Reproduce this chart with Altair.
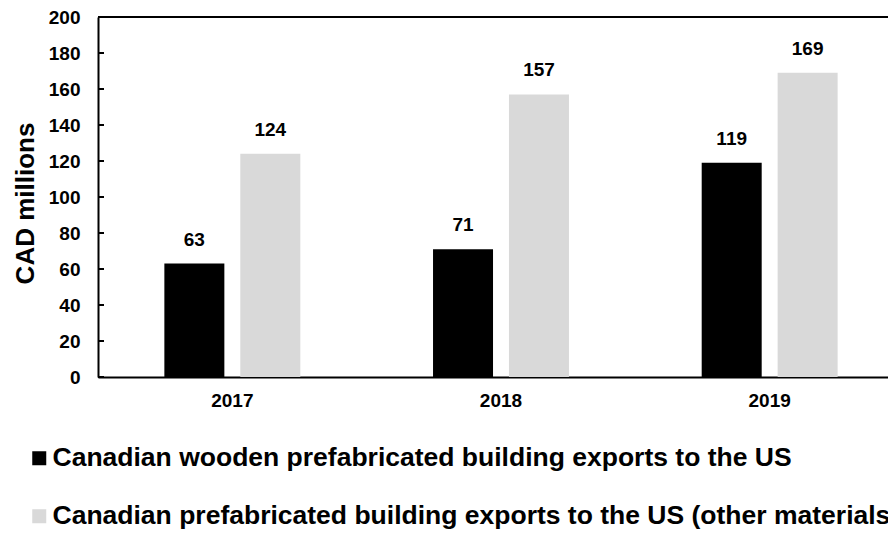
import altair as alt
import pandas as pd

years = ["2017", "2018", "2019"]
series_names = [
    "Canadian wooden prefabricated building exports to the US",
    "Canadian prefabricated building exports to the US (other materials)",
]
wooden = [63, 71, 119]
other = [124, 157, 169]
colors = ["#000000", "#d9d9d9"]
y_ticks = [0, 20, 40, 60, 80, 100, 120, 140, 160, 180, 200]
y_max = [200]

rows = []
for i, y in enumerate(years):
    rows.append({"year": y, "series": series_names[0], "value": wooden[i]})
    rows.append({"year": y, "series": series_names[1], "value": other[i]})
df = pd.DataFrame(rows)
ticks_df = pd.DataFrame({"t": y_ticks})
top_df = pd.DataFrame({"t": y_max})

FONT = "Liberation Sans"

x_scale = alt.Scale(paddingInner=0.494, paddingOuter=0.247, range=[0, 806])
x_axis = alt.Axis(
    title=None,
    ticks=False,
    labelAngle=0,
    labelFont=FONT,
    labelFontSize=19,
    labelFontWeight="bold",
    labelColor="#000000",
    labelBaseline="alphabetic",
    labelPadding=29,
    domainColor="#000000",
    domainWidth=2,
    grid=False,
)
xoff = alt.XOffset(
    "series:N",
    sort=series_names,
    scale=alt.Scale(paddingInner=0.21, paddingOuter=0),
)
y_scale = alt.Scale(domain=[0, 200], nice=False)
y_axis = alt.Axis(
    title="CAD millions",
    values=y_ticks,
    ticks=False,
    grid=False,
    labelOverlap=False,
    labelFont=FONT,
    labelFontSize=19,
    labelFontWeight="bold",
    labelColor="#000000",
    labelPadding=18,
    domainColor="#000000",
    domainWidth=2,
    titleFont=FONT,
    titleFontSize=26,
    titleFontWeight="bold",
    titleColor="#000000",
    titleBaseline="alphabetic",
    titleX=-65,
    titleY=186,
)
color_enc = alt.Color(
    "series:N",
    sort=series_names,
    scale=alt.Scale(domain=series_names, range=colors),
    legend=alt.Legend(
        title=None,
        orient="none",
        legendX=-72,
        legendY=428,
        direction="vertical",
        symbolType="square",
        symbolSize=196,
        symbolStrokeWidth=0,
        labelFont=FONT,
        labelFontSize=26.5,
        labelFontWeight="bold",
        labelColor="#000000",
        labelLimit=2000,
        labelOffset=0,
        rowPadding=31,
        padding=0,
    ),
)

base = alt.Chart(df)
bars = base.mark_bar().encode(
    x=alt.X("year:N", sort=years, scale=x_scale, axis=x_axis),
    xOffset=xoff,
    y=alt.Y("value:Q", scale=y_scale, axis=y_axis),
    color=color_enc,
)
labels = base.mark_text(
    font=FONT, fontSize=19, fontWeight="bold", color="#000000",
    baseline="alphabetic", dy=-18,
).encode(
    x=alt.X("year:N", sort=years, scale=x_scale, axis=x_axis),
    xOffset=xoff,
    y=alt.Y("value:Q", scale=y_scale, axis=y_axis),
    text=alt.Text("value:Q"),
)
tick_marks = alt.Chart(ticks_df).mark_rule(color="#000000", strokeWidth=2).encode(
    y=alt.Y("t:Q", scale=y_scale, axis=y_axis),
    x=alt.value(0),
    x2=alt.value(6),
)
top_line = alt.Chart(top_df).mark_rule(color="#000000", strokeWidth=2).encode(
    y=alt.Y("t:Q", scale=y_scale, axis=y_axis),
)

chart = (
    alt.layer(bars, labels, tick_marks, top_line)
    .properties(
        width=790,
        height=360,
        autosize=alt.AutoSizeParams(type="none"),
        padding={"left": 90, "top": 9, "right": 0, "bottom": 156},
    )
    .configure_view(stroke=None)
    .configure_axisY(labelOverlap=False)
    .configure(background="#ffffff")
)

chart.save("out.html", embed_options={"renderer": "svg", "actions": False})
